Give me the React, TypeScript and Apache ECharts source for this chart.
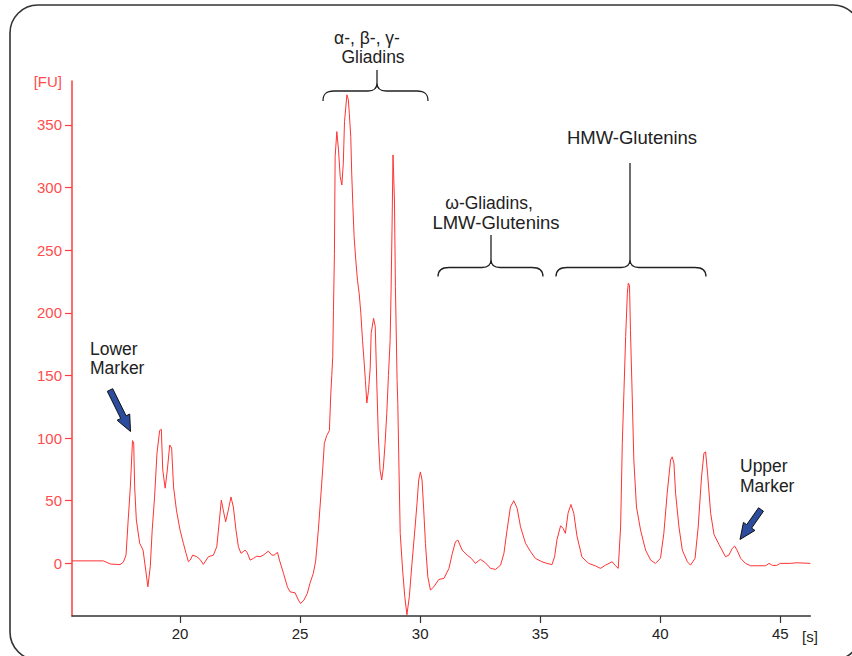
import React, { useEffect, useRef } from "react";
import * as echarts from "echarts";

// migration time [s]
const times = [
  15.5, 16.8, 17.1, 17.5, 17.64, 17.75, 17.84, 17.93, 18.02, 18.07, 18.11, 18.18, 18.32, 18.46, 18.57, 18.66, 18.76,
  18.84, 18.94, 19.04, 19.15, 19.22, 19.28, 19.38, 19.47, 19.57, 19.65, 19.73, 19.85, 20.0, 20.14, 20.25, 20.35,
  20.42, 20.53, 20.7, 20.83, 20.97, 21.18, 21.39, 21.53, 21.64, 21.72, 21.8, 21.9, 22.01, 22.12, 22.22, 22.33,
  22.43, 22.54, 22.71, 22.8, 22.92, 23.06, 23.2, 23.33, 23.47, 23.68, 23.82, 23.92, 24.06, 24.14, 24.31, 24.47,
  24.58, 24.79, 24.93, 25.02, 25.16, 25.3, 25.41, 25.55, 25.65, 25.76, 25.86, 25.94, 26.01, 26.11, 26.22, 26.28,
  26.32, 26.36, 26.39, 26.43, 26.46, 26.53, 26.6, 26.67, 26.74, 26.8, 26.85, 26.95, 27.01, 27.05, 27.11, 27.15,
  27.2, 27.25, 27.32, 27.39, 27.46, 27.53, 27.6, 27.67, 27.72, 27.78, 27.85, 27.92, 27.96, 28.06, 28.13, 28.2,
  28.26, 28.33, 28.4, 28.47, 28.54, 28.61, 28.68, 28.75, 28.79, 28.83, 28.87, 28.93, 28.97, 29.04, 29.07, 29.12,
  29.17, 29.27, 29.36, 29.45, 29.55, 29.66, 29.78, 29.87, 29.94, 30.01, 30.08, 30.15, 30.22, 30.32, 30.43, 30.57,
  30.78, 30.99, 31.2, 31.34, 31.47, 31.57, 31.75, 31.96, 32.13, 32.3, 32.51, 32.72, 32.93, 33.14, 33.35, 33.49,
  33.62, 33.76, 33.9, 34.04, 34.18, 34.39, 34.6, 34.8, 35.07, 35.28, 35.49, 35.6, 35.7, 35.85, 35.95, 36.05,
  36.16, 36.28, 36.4, 36.53, 36.74, 37.02, 37.3, 37.51, 37.72, 38.0, 38.11, 38.25, 38.35, 38.42, 38.49, 38.56,
  38.63, 38.67, 38.72, 38.76, 38.83, 38.9, 39.01, 39.18, 39.39, 39.6, 39.8, 40.01, 40.15, 40.29, 40.43, 40.5,
  40.57, 40.64, 40.78, 40.92, 41.13, 41.26, 41.45, 41.58, 41.72, 41.82, 41.89, 41.97, 42.1, 42.24, 42.45, 42.72,
  42.86, 43.0, 43.1, 43.2, 43.35, 43.55, 43.76, 44.11, 44.39, 44.53, 44.67, 44.85, 45.0, 45.42, 45.69, 46.25,
];

// fluorescence [FU]
const signal = [
  2, 2, -0.5, -1, 1, 6.6, 34.6, 61, 98, 96, 61, 34.6, 16, 10.6, -5.3, -18.7, -2.7,
  26.6, 53, 88, 106, 107, 74.5, 60, 74.5, 94.5, 92, 61, 42.5, 26.6, 16, 8, 1.3,
  2.6, 6.6, 5.3, 3.2, -0.8, 5.3, 6.6, 13.3, 34.6, 50.5, 42.5, 33.2, 42.5, 53, 45, 26.6,
  13.3, 8, 10.6, 8.5, 2.6, 4, 5.8, 5.3, 6.6, 9.8, 6.6, 6.6, 8.8, 2.6, -8, -18.7,
  -22.7, -23.5, -29.3, -32, -29.3, -24, -16, -8, 2, 26.6, 53, 74.5, 95.8, 102, 106, 135.7,
  150, 165, 202, 247.5, 324.7, 344.6, 330, 308.7, 302, 319.4, 352.6, 374, 370, 359, 340.6, 311.4,
  284.7, 260.8, 242, 226, 215.6, 199.6, 178, 160, 146, 128, 138, 156, 183.6, 195.6, 189, 140,
  101, 74.5, 66.5, 77, 95.8, 119.8, 150, 178, 218, 268.6, 326, 290, 221, 146, 127.7, 74.5,
  24, -5.3, -26.6, -41, -26.6, 0, 26.6, 48, 66.5, 73, 66.5, 42.5, 16, -10.7, -21.3, -18.7,
  -12.8, -12, -4, 8, 17.2, 18.6, 10.6, 6.6, 4, 0, 3.2, 0.5, -4, -4.8, -1.4, 8,
  26.6, 45, 50, 44, 29.2, 16, 9.3, 4, 1.3, 0, -1, 5.3, 19, 30, 28, 24,
  40, 47, 40, 22, 5, 0, -2, -4, -1.4, 1.3, -1.4, -4, 29, 95.8, 138, 181,
  215.6, 223.6, 222, 186, 135.7, 82.5, 45, 26.6, 10.6, 2.6, 0, 4, 24, 56, 82.5, 85,
  80, 56, 29, 10.6, 1.3, -1.4, 4, 29, 69, 88, 89, 72, 40, 23, 15, 5.3,
  6.6, 12, 13.8, 10.6, 4, 0, -1.9, -1.9, -1.9, 0, -1.6, -1.6, 0, 0, 0.5, 0,
];

const xTicks = [20, 25, 30, 35, 40, 45];
const yTicks = [0, 50, 100, 150, 200, 250, 300, 350];
const xRange = [15.5, 46.25];
const yRange = [-42, 385];

const yUnit = "[FU]";
const xUnit = "[s]";
const groupLabels = [
  ["α-, β-, γ-", "Gliadins"],
  ["ω-Gliadins,", "LMW-Glutenins"],
  ["HMW-Glutenins"],
];
const markerLabels = [
  ["Lower", "Marker"],
  ["Upper", "Marker"],
];

function bracePath(xL: number, xR: number, xc: number, y0: number, drop: number, rise: number, stemTop: number) {
  const r = 11;
  const c = 9;
  return (
    `M${xL} ${y0 + drop} C${xL} ${y0 + 3} ${xL + 3} ${y0} ${xL + r} ${y0} ` +
    `L${xc - c} ${y0} C${xc - 3} ${y0} ${xc} ${y0 - 2} ${xc} ${y0 - rise} ` +
    `C${xc} ${y0 - 2} ${xc + 3} ${y0} ${xc + c} ${y0} ` +
    `L${xR - r} ${y0} C${xR - 3} ${y0} ${xR} ${y0 + 3} ${xR} ${y0 + drop} ` +
    `M${xc} ${y0 - rise} L${xc} ${stemTop} `
  );
}

let registered = false;
function registerShapes() {
  if (registered) return;
  registered = true;
  const d =
    bracePath(323, 428, 377, 91, 10, 8, 70) +
    bracePath(438, 543, 491, 267.5, 9, 8, 235) +
    bracePath(556, 706, 630, 267.5, 9, 8, 163);
  echarts.graphic.registerShape("braces", echarts.graphic.extendPath(d, {}) as any);
}

function arrowPoints(tx: number, ty: number, px: number, py: number) {
  const dx = px - tx;
  const dy = py - ty;
  const len = Math.sqrt(dx * dx + dy * dy);
  const ux = dx / len;
  const uy = dy / len;
  const nx = -uy;
  const ny = ux;
  const sw = 3;
  const hw = 7;
  const hl = 16;
  const hx = px - ux * hl;
  const hy = py - uy * hl;
  return [
    [tx + nx * sw, ty + ny * sw],
    [hx + nx * sw, hy + ny * sw],
    [hx + nx * hw, hy + ny * hw],
    [px, py],
    [hx - nx * hw, hy - ny * hw],
    [hx - nx * sw, hy - ny * sw],
    [tx - nx * sw, ty - ny * sw],
  ];
}

export default function App() {
  const ref = useRef<HTMLDivElement>(null);
  useEffect(() => {
    if (!ref.current) return;
    registerShapes();
    const chart = echarts.init(ref.current, undefined, { renderer: "svg" });
    const data = times.map((t, i) => [t, signal[i]]);
    const annFont = "Liberation Sans, Arial, sans-serif";
    const annColor = "#222";
    const txt = (text: string, x: number, y: number, align: string, size = 17.5) => ({
      type: "text",
      x,
      y,
      style: {
        text,
        fill: annColor,
        font: `${size}px ${annFont}`,
        textAlign: align,
        textVerticalAlign: "middle",
      },
    });
    chart.setOption({
      animation: false,
      backgroundColor: "#ffffff",
      grid: { left: 72, right: 41.7, top: 81, bottom: 40, containLabel: false, outerBoundsMode: "none" },
      xAxis: {
        type: "value",
        min: xRange[0],
        max: xRange[1],
        axisLine: { show: true, onZero: false, lineStyle: { color: "#333", width: 1.5 } },
        axisTick: { show: true, inside: false, length: 7, customValues: xTicks, lineStyle: { color: "#333", width: 1.2 } },
        axisLabel: {
          customValues: xTicks,
          color: "#222",
          fontSize: 15,
          fontFamily: "Liberation Sans, Arial, sans-serif",
          margin: 10,
        },
        splitLine: { show: false },
      },
      yAxis: {
        type: "value",
        min: yRange[0],
        max: yRange[1],
        axisLine: { show: true, onZero: false, lineStyle: { color: "#ff3b3b", width: 1.5 } },
        axisTick: { show: true, inside: false, length: 7, customValues: yTicks, lineStyle: { color: "#ff3b3b", width: 1.2 } },
        axisLabel: {
          customValues: yTicks,
          color: "#ff4d4d",
          fontSize: 15,
          fontFamily: "Liberation Sans, Arial, sans-serif",
          margin: 10,
        },
        splitLine: { show: false },
      },
      series: [
        {
          type: "line",
          data,
          symbol: "none",
          lineStyle: { color: "#ff3333", width: 1 },
          clip: false,
        },
      ],
      graphic: [
        {
          type: "rect",
          shape: { x: 10, y: 5, width: 851, height: 655, r: 28 },
          style: { fill: "none", stroke: "#333", lineWidth: 1.6 },
          z: 0,
        },
        {
          type: "text",
          x: 62,
          y: 81,
          style: {
            text: yUnit,
            fill: "#ff4d4d",
            font: "15px Liberation Sans, Arial, sans-serif",
            textAlign: "right",
            textVerticalAlign: "middle",
          },
        },
        {
          type: "text",
          x: 802,
          y: 636,
          style: {
            text: xUnit,
            fill: "#222",
            font: "15px Liberation Sans, Arial, sans-serif",
            textAlign: "left",
            textVerticalAlign: "middle",
          },
        },
        {
          type: "braces",
          x: 0,
          y: 0,
          scaleX: 1,
          scaleY: 1,
          style: { fill: "none", stroke: "#222", lineWidth: 1.3 },
        },
        txt(groupLabels[0][0], 367, 38, "center"),
        txt(groupLabels[0][1], 373, 57, "center"),
        txt(groupLabels[1][0], 489, 203, "center"),
        txt(groupLabels[1][1], 496, 222, "center", 18.5),
        txt(groupLabels[2][0], 632, 137, "center", 18.5),
        txt(markerLabels[0][0], 90, 349, "left"),
        txt(markerLabels[0][1], 90, 368, "left"),
        txt(markerLabels[1][0], 740, 466, "left"),
        txt(markerLabels[1][1], 740, 486, "left"),
        {
          type: "polygon",
          shape: { points: arrowPoints(110, 390, 130.5, 431.5) },
          style: { fill: "#2c4c9e", stroke: "#111", lineWidth: 1 },
        },
        {
          type: "polygon",
          shape: { points: arrowPoints(761, 509.5, 740, 539.5) },
          style: { fill: "#2c4c9e", stroke: "#111", lineWidth: 1 },
        },
      ],
    });
    return () => chart.dispose();
  }, []);
  return (
    <div
      ref={ref}
      style={{ position: "absolute", left: 0, top: 0, width: 852, height: 656, background: "#fff" }}
    />
  );
}
